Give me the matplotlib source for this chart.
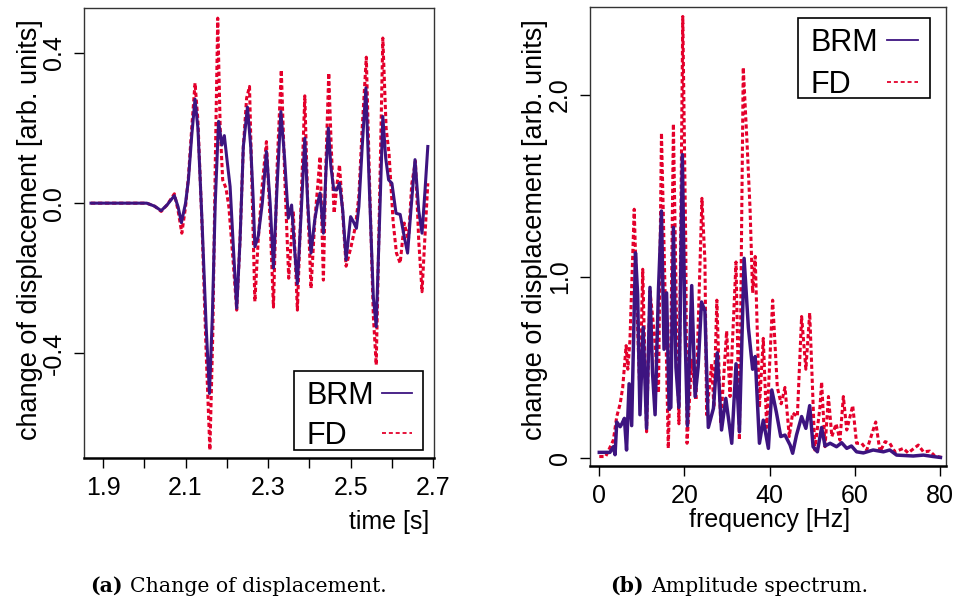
import numpy as np
import matplotlib
matplotlib.use('Agg')
import matplotlib.pyplot as plt
from matplotlib.patches import Rectangle
from matplotlib.lines import Line2D

plt.rcParams['font.family'] = ['Liberation Sans', 'DejaVu Sans']

# --- (a) change of displacement ---
t_brm = [1.871, 2.006, 2.025, 2.041, 2.055, 2.073, 2.082, 2.090, 2.100, 2.107,
         2.115, 2.123, 2.130, 2.140, 2.150, 2.158, 2.165, 2.172, 2.180, 2.188,
         2.194, 2.200, 2.208, 2.216, 2.224, 2.232, 2.240, 2.250, 2.258, 2.264,
         2.268, 2.276, 2.286, 2.296, 2.305, 2.313, 2.322, 2.331, 2.340, 2.349,
         2.357, 2.364, 2.371, 2.380, 2.389, 2.396, 2.404, 2.413, 2.420, 2.426,
         2.434, 2.440, 2.446, 2.452, 2.459, 2.466, 2.473, 2.481, 2.489, 2.500,
         2.507, 2.514, 2.520, 2.528, 2.537, 2.545, 2.555, 2.562, 2.570, 2.578,
         2.585, 2.592, 2.600, 2.610, 2.620, 2.630, 2.638, 2.646, 2.656, 2.665,
         2.673, 2.680, 2.687]
u_brm = [0.0, 0.0, -0.008, -0.02, -0.005, 0.02, -0.01, -0.052, 0.0, 0.062,
         0.18, 0.277, 0.2, -0.05, -0.33, -0.507, -0.3, 0.0, 0.218, 0.155,
         0.18, 0.12, 0.044, -0.12, -0.28, -0.1, 0.15, 0.256, 0.15, 0.009,
         -0.116, -0.089, 0.0, 0.138, 0.0, -0.173, 0.05, 0.244, 0.12, -0.04,
         -0.005, -0.12, -0.215, -0.03, 0.173, 0.0, -0.133, -0.045, 0.0, 0.027,
         -0.08, 0.08, 0.2, 0.1, 0.036, 0.035, 0.053, -0.02, -0.151, -0.036,
         -0.05, -0.067, -0.009, 0.15, 0.307, 0.05, -0.25, -0.329, -0.05, 0.231,
         0.12, 0.062, 0.053, -0.027, -0.03, -0.09, -0.133, -0.02, 0.116, -0.02,
         -0.08, 0.03, 0.151]

t_fd = [1.871, 2.006, 2.025, 2.041, 2.055, 2.073, 2.082, 2.091, 2.100, 2.107,
        2.115, 2.123, 2.130, 2.140, 2.150, 2.159, 2.166, 2.172, 2.178, 2.184,
        2.190, 2.198, 2.205, 2.215, 2.224, 2.232, 2.240, 2.248, 2.255, 2.262,
        2.268, 2.276, 2.286, 2.296, 2.305, 2.313, 2.322, 2.332, 2.341, 2.350,
        2.361, 2.371, 2.380, 2.389, 2.396, 2.404, 2.413, 2.426, 2.434, 2.440,
        2.447, 2.453, 2.460, 2.467, 2.473, 2.481, 2.489, 2.501, 2.512, 2.520,
        2.528, 2.538, 2.546, 2.555, 2.562, 2.570, 2.578, 2.586, 2.593, 2.603,
        2.611, 2.620, 2.630, 2.640, 2.648, 2.657, 2.665, 2.673, 2.680, 2.687]
u_fd = [0.0, 0.0, -0.008, -0.022, -0.005, 0.025, -0.02, -0.08, -0.01, 0.07,
        0.2, 0.32, 0.22, -0.06, -0.4, -0.658, -0.35, 0.1, 0.493, 0.2,
        0.062, 0.04, -0.01, -0.15, -0.285, -0.1, 0.15, 0.28, 0.311, 0.0,
        -0.262, -0.1, 0.05, 0.164, -0.05, -0.277, 0.1, 0.355, 0.05, -0.2,
        -0.022, -0.285, 0.0, 0.286, 0.0, -0.227, -0.05, 0.124, -0.205, 0.1,
        0.347, 0.15, -0.027, 0.05, 0.102, -0.03, -0.168, -0.116, -0.06, 0.02,
        0.2, 0.389, 0.05, -0.3, -0.431, 0.0, 0.44, 0.2, 0.133, -0.05,
        -0.133, -0.16, -0.053, -0.1, 0.05, 0.112, -0.1, -0.236, -0.09, 0.053]

# --- (b) amplitude spectrum ---
f_brm = [0, 2.5, 3.3, 3.7, 4.1, 4.9, 5.3, 5.9, 6.4, 7.0, 7.6, 8.5, 9.0, 9.55,
         10.3, 11.1, 11.9, 12.5, 13.1, 13.9, 14.6, 15.2, 15.8, 16.4, 16.8, 17.4,
         18.0, 18.7, 19.5, 20.1, 20.7, 21.7, 22.5, 23.2, 24.0, 24.8, 25.6, 26.8,
         27.7, 28.7, 29.7, 31.1, 32.1, 32.9, 34.0, 35.0, 36.0, 36.6, 37.6, 38.5,
         39.7, 40.5, 41.6, 42.6, 43.6, 44.8, 45.4, 46.3, 47.5, 48.5, 49.4, 50.2,
         51.2, 52.2, 53.0, 54.2, 55.7, 56.9, 58.1, 59.2, 60.4, 62.0, 64.3, 66.7,
         68.2, 69.8, 73.7, 76.1, 78.4, 80.1]
a_brm = [0.033, 0.033, 0.064, 0.02, 0.2, 0.174, 0.19, 0.22, 0.046, 0.41, 0.18,
         1.13, 0.9, 0.24, 0.72, 0.165, 0.94, 0.47, 0.24, 0.93, 1.36, 0.6, 0.91,
         0.27, 0.28, 1.27, 0.5, 0.28, 1.67, 0.72, 0.18, 0.95, 0.34, 0.5, 0.86,
         0.81, 0.17, 0.275, 0.58, 0.156, 0.33, 0.083, 0.52, 0.146, 1.1, 0.72,
         0.49, 0.56, 0.083, 0.21, 0.055, 0.376, 0.25, 0.12, 0.128, 0.073, 0.028,
         0.128, 0.23, 0.165, 0.29, 0.064, 0.036, 0.17, 0.068, 0.083, 0.064,
         0.086, 0.055, 0.068, 0.036, 0.03, 0.046, 0.036, 0.046, 0.018, 0.013,
         0.018, 0.01, 0.005]

f_fd = [0, 1.5, 2.5, 3.3, 4.1, 4.9, 5.5, 6.3, 6.7, 7.2, 8.2, 9.0, 9.55, 10.2,
        11.1, 11.9, 12.9, 13.9, 14.6, 15.4, 16.2, 16.8, 17.4, 18.2, 18.7, 19.6,
        20.3, 20.6, 21.7, 22.7, 24.1, 24.8, 25.2, 26.4, 26.9, 27.6, 28.5, 29.9,
        30.7, 32.1, 32.9, 33.8, 34.7, 35.4, 36.0, 36.6, 37.6, 38.5, 39.3, 40.7,
        41.8, 42.7, 43.6, 44.6, 45.4, 46.5, 47.5, 48.5, 49.4, 50.6, 51.8, 52.2,
        53.0, 53.8, 54.6, 55.6, 56.5, 57.3, 58.1, 59.5, 60.4, 61.6, 62.8, 64.9,
        65.9, 67.1, 68.2, 69.4, 71.4, 72.5, 74.9, 76.1, 77.6, 78.8, 80.4]
a_fd = [0.01, 0.01, 0.06, 0.1, 0.23, 0.3, 0.39, 0.62, 0.49, 0.65, 1.37, 0.72,
        0.34, 1.04, 0.146, 0.92, 0.69, 0.36, 1.79, 0.96, 0.055, 0.61, 1.84,
        0.67, 0.19, 2.43, 1.18, 0.083, 0.54, 0.32, 1.43, 1.09, 0.24, 0.52,
        0.28, 0.87, 0.19, 0.7, 0.34, 1.08, 0.1, 2.15, 1.73, 1.37, 0.91, 1.11,
        0.28, 0.66, 0.17, 0.87, 0.39, 0.3, 0.39, 0.12, 0.25, 0.23, 0.78, 0.49,
        0.8, 0.046, 0.28, 0.42, 0.064, 0.34, 0.12, 0.19, 0.1, 0.34, 0.156,
        0.29, 0.083, 0.083, 0.046, 0.2, 0.036, 0.092, 0.083, 0.036, 0.055,
        0.03, 0.073, 0.036, 0.04, 0.013, 0.005]

BRM_COL = '#3d1480'
FD_COL = '#e4002b'
W, H = 955, 602

fig = plt.figure(figsize=(9.55, 6.02), dpi=100)


def fx(x):
    return x / W


def fy(y):
    return 1 - y / H


def px_axes(x0, y0, x1, y1):
    return fig.add_axes([fx(x0), fy(y1), (x1 - x0) / W, (y1 - y0) / H])


def style(ax):
    for s in ax.spines.values():
        s.set_color('#333333')
        s.set_linewidth(1.0)
    ax.spines['bottom'].set_color('black')
    ax.spines['bottom'].set_linewidth(1.8)
    ax.tick_params(direction='out', length=7, width=1, labelsize=18, pad=6)


def draw_legend(box, text_x, rows, line_x):
    # R-style legend: label on the left, line sample on the right
    x0, y0, x1, y1 = box
    fig.add_artist(Rectangle((fx(x0), fy(y1)), (x1 - x0) / W, (y1 - y0) / H,
                             transform=fig.transFigure, fill=True, fc='white',
                             ec='black', lw=1.2, zorder=5))
    for (label, yc), (col, dash) in zip(rows, [(BRM_COL, None), (FD_COL, (2.2, 1.6))]):
        fig.text(fx(text_x), fy(yc + 11), label, fontsize=22, va='baseline',
                 ha='left', zorder=6)
        ln = Line2D([fx(line_x[0]), fx(line_x[1])], [fy(yc), fy(yc)],
                    transform=fig.transFigure, color=col, lw=1.3, zorder=6)
        if dash:
            ln.set_dashes(dash)
        fig.add_artist(ln)


# left panel: BRM drawn on top of FD
ax1 = px_axes(84, 8, 434, 458)
ax1.plot(t_brm, u_brm, color=BRM_COL, lw=2.2, zorder=3)
ax1.plot(t_fd, u_fd, color=FD_COL, lw=2.2, dashes=(1.4, 0.9), zorder=2)
ax1.set_xlim(1.854, 2.702)
ax1.set_ylim(-0.679, 0.52)
ax1.set_xticks(np.arange(1.9, 2.71, 0.1))
ax1.set_xticklabels(['1.9', '', '2.1', '', '2.3', '', '2.5', '', '2.7'])
ax1.set_yticks([-0.4, 0.0, 0.4])
ax1.set_yticklabels(['-0.4', '0.0', '0.4'], rotation=90, va='center')
style(ax1)
draw_legend((294, 371, 423, 450), 306, [('BRM', 393), ('FD', 433)], (382, 412))

# right panel
ax2 = px_axes(590, 7, 946, 466)
ax2.plot(f_brm, a_brm, color=BRM_COL, lw=2.5, zorder=3)
ax2.plot(f_fd, a_fd, color=FD_COL, lw=2.2, dashes=(1.4, 0.9), zorder=2)
ax2.set_xlim(-2.18, 81.4)
ax2.set_ylim(-0.042, 2.482)
ax2.set_xticks([0, 20, 40, 60, 80])
ax2.set_yticks([0, 1, 2])
ax2.set_yticklabels(['0', '1.0', '2.0'], rotation=90, va='center')
style(ax2)
draw_legend((798, 18, 930, 98), 810, [('BRM', 40), ('FD', 82)], (887, 918))

# axis titles
ylab = 'change of displacement [arb. units]'
fig.text(fx(30), fy(230), ylab, rotation=90, ha='center', va='center', fontsize=19.5)
fig.text(fx(535), fy(230), ylab, rotation=90, ha='center', va='center', fontsize=19.5)
fig.text(fx(429), fy(522), 'time [s]', ha='right', va='center', fontsize=18)
fig.text(fx(770), fy(520), 'frequency [Hz]', ha='center', va='center', fontsize=18)

# sub-captions: bold tag followed by normal text
fig.canvas.draw()
rend = fig.canvas.get_renderer()
for x0, tag, rest in [(90, '(a)', 'Change of displacement.'),
                      (610, '(b)', 'Amplitude spectrum.')]:
    tt = fig.text(fx(x0), fy(586), tag, fontweight='bold', fontsize=14.7,
                  family='DejaVu Serif', va='center')
    bb = tt.get_window_extent(rend)
    fig.text((bb.x1 + 7) / W, fy(586), rest, fontsize=14.7,
             family='DejaVu Serif', va='center')

fig.savefig('out.png', dpi=100)
